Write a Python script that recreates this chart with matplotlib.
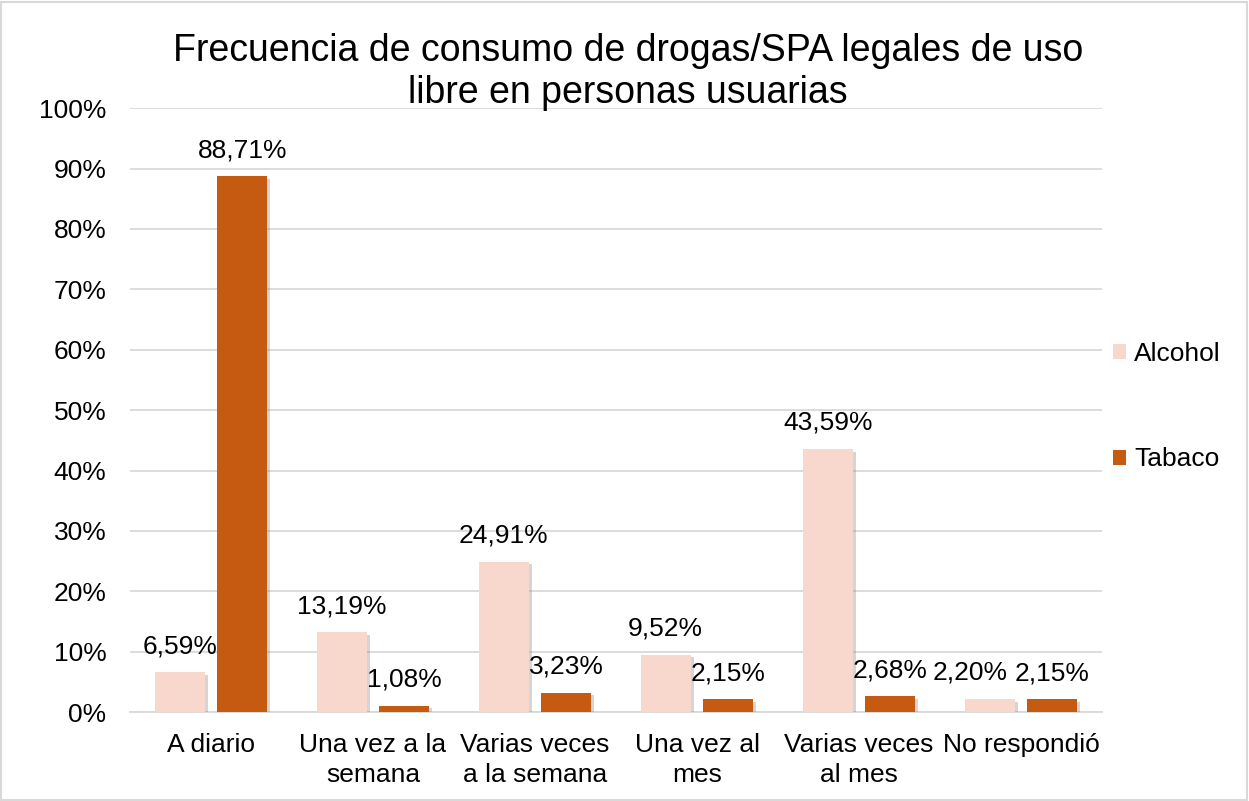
import matplotlib
matplotlib.use("Agg")
import matplotlib.pyplot as plt
import matplotlib.patheffects as pe
import numpy as np

categories = ["A diario", "Una vez a la\nsemana", "Varias veces\na la semana",
              "Una vez al\nmes", "Varias veces\nal mes", "No respondió"]
alcohol = [6.59, 13.19, 24.91, 9.52, 43.59, 2.20]
tabaco = [88.71, 1.08, 3.23, 2.15, 2.68, 2.15]
series_names = ["Alcohol", "Tabaco"]
colors = ["#F8D7CC", "#C55A11"]
title = "Frecuencia de consumo de drogas/SPA legales de uso\nlibre en personas usuarias"

plt.rcParams['font.family'] = ['Liberation Sans', 'DejaVu Sans']

fig = plt.figure(figsize=(12.49, 8.01), dpi=100)
ax = fig.add_axes([0.1041, 0.111, 0.7782, 0.754])

x = np.arange(len(categories))
w = 0.31
off = 0.193
shadow = [pe.SimplePatchShadow(offset=(2, -2), shadow_rgbFace="#888888", alpha=0.35), pe.Normal()]
for si, (vals, sign, name, c) in enumerate([(alcohol, -1, series_names[0], colors[0]),
                                            (tabaco, 1, series_names[1], colors[1])]):
    bars = ax.bar(x + sign * off, vals, width=w, color=c, label=name, zorder=3)
    for b in bars:
        b.set_path_effects(shadow)
    for i, (xi, v) in enumerate(zip(x, vals)):
        dx = 0
        if si == 0 and i == len(categories) - 1:
            dx = -14  # nudge to avoid overlap, as in the original
        ax.annotate(f"{v:.2f}%".replace(".", ","), (xi + sign * off, v),
                    xytext=(dx, 10), textcoords="offset points",
                    ha="center", va="bottom", fontsize=19, color="#000000", zorder=4)

ax.set_xlim(-0.5, len(categories) - 0.5)
ax.set_ylim(0, 100)
ax.set_yticks(np.arange(0, 101, 10))
ax.set_yticklabels([f"{v}%" for v in range(0, 101, 10)], fontsize=19)
ax.set_xticks(x)
ax.set_xticklabels(categories, fontsize=19, linespacing=1.32)
ax.tick_params(axis="y", length=0, pad=17)
ax.tick_params(axis="x", length=0, pad=15)
ax.grid(axis="y", color="#D9D9D9", linewidth=1.3, zorder=0)
for s in ["top", "right", "left"]:
    ax.spines[s].set_visible(False)
ax.spines["bottom"].set_color("#D9D9D9")
ax.spines["bottom"].set_linewidth(1.3)
ax.spines["bottom"].set_zorder(2)

fig.text(0.503, 1 - 72 / 801, title, ha="center", va="center", fontsize=27, linespacing=1.22)

leg = fig.legend(loc="center left", bbox_to_anchor=(1113 / 1249, 1 - 406.5 / 801), frameon=False,
                 fontsize=19, handlelength=0.5, handleheight=0.5, handletextpad=0.3,
                 labelspacing=3.1, borderaxespad=0, borderpad=0)
for h in leg.legend_handles:
    h.set_path_effects([])

fig.patches.append(plt.Rectangle((0.001, 0.001), 0.997, 0.997, transform=fig.transFigure,
                                 fill=False, edgecolor="#D9D9D9", linewidth=1.5))

fig.savefig("out.png", dpi=100, facecolor="white")
